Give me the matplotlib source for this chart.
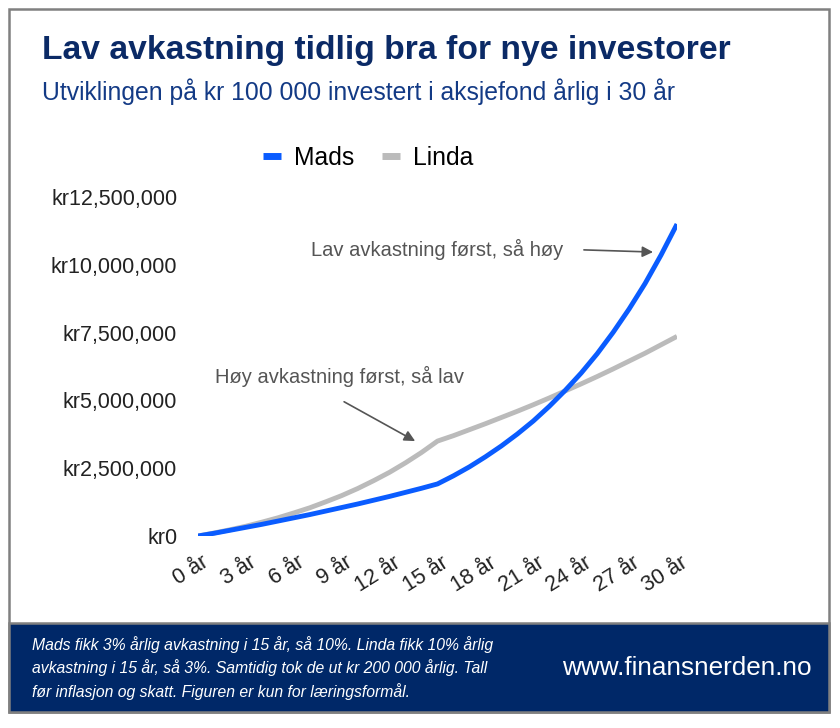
import matplotlib
matplotlib.use('Agg')
import matplotlib.pyplot as plt
from matplotlib.patches import Rectangle
from matplotlib.lines import Line2D
from matplotlib.ticker import FuncFormatter
from matplotlib.transforms import ScaledTranslation

plt.rcParams['font.family'] = ['Liberation Sans', 'DejaVu Sans']

years = list(range(31))
# verdier i millioner kr, lest av figuren
mads = [0.00, 0.10, 0.21, 0.32, 0.43, 0.55, 0.67, 0.79, 0.92, 1.05,
        1.18, 1.32, 1.46, 1.61, 1.76, 1.92, 2.22, 2.55, 2.92, 3.32,
        3.76, 4.24, 4.78, 5.37, 6.01, 6.72, 7.51, 8.37, 9.31, 10.36, 11.50]
linda = [0.00, 0.11, 0.23, 0.36, 0.51, 0.67, 0.85, 1.04, 1.26, 1.49,
         1.75, 2.04, 2.35, 2.70, 3.08, 3.50, 3.70, 3.92, 4.14, 4.37,
         4.60, 4.84, 5.09, 5.35, 5.61, 5.88, 6.16, 6.45, 6.74, 7.05, 7.36]
xticks = list(range(0, 31, 3))
xlabels = [f'{y} år' for y in xticks]
yticks = [0, 2.5, 5, 7.5, 10, 12.5]

BLUE = '#0a5cff'
GREY = '#bbbbbb'
NAVY = '#0b2a66'

fig = plt.figure(figsize=(8.4, 7.28), dpi=100)

# ramme og bunnfelt
fig.patches.append(Rectangle((9/840, 1-712/728), 820/840, 703/728, transform=fig.transFigure,
                             facecolor='white', edgecolor='#808080', lw=1.8, zorder=-10))
fig.patches.append(Rectangle((9/840, 1-712/728), 820/840, 89/728, transform=fig.transFigure,
                             facecolor='#002868', edgecolor='#808080', lw=1.8, zorder=-9))

fig.text(42/840, 1-50/728, 'Lav avkastning tidlig bra for nye investorer', fontsize=24.2,
         fontweight='bold', color=NAVY, va='center')
fig.text(42/840, 1-92/728, 'Utviklingen på kr 100 000 investert i aksjefond årlig i 30 år',
         fontsize=17.8, color='#133a85', va='center')

ax = fig.add_axes([198/840, 1-536/728, (677-198)/840, (536-197)/728])
ax.plot(years, linda, color=GREY, lw=3.5, label='Linda', solid_capstyle='butt', zorder=2)
ax.plot(years, mads, color=BLUE, lw=3.5, label='Mads', solid_capstyle='butt', zorder=3)
ax.set_xlim(0, 30)
ax.set_ylim(0, 12.5)
ax.set_xticks(xticks)
ax.set_xticklabels(xlabels, rotation=32, ha='right', va='center', rotation_mode='anchor')
ax.set_yticks(yticks)
ax.yaxis.set_major_formatter(FuncFormatter(lambda v, p: 'kr0' if v == 0 else f'kr{v*1e6:,.0f}'))
ax.tick_params(axis='both', length=0, labelsize=15.5, colors='#222222')
ax.tick_params(axis='y', pad=15)
ax.tick_params(axis='x', pad=18)
shift = ScaledTranslation(9/100, 0, fig.dpi_scale_trans)
for lab in ax.get_xticklabels():
    lab.set_transform(lab.get_transform() + shift)
for s in ax.spines.values():
    s.set_visible(False)
ax.patch.set_alpha(0)

handles = [Line2D([], [], color=BLUE, lw=5, solid_capstyle='butt'),
           Line2D([], [], color=GREY, lw=5, solid_capstyle='butt')]
fig.legend(handles, ['Mads', 'Linda'], loc='center', bbox_to_anchor=(368/840, 1-158/728),
           ncol=2, frameon=False, fontsize=17.8, handlelength=0.73, handletextpad=0.53,
           columnspacing=1.1)

ax.text(22.86, 10.55, 'Lav avkastning først, så høy', fontsize=14.5, color='#555555',
        ha='right', va='center')
ax.annotate('', xy=(28.5, 10.47), xytext=(24.17, 10.55),
            arrowprops=dict(arrowstyle='-|>', color='#555555', lw=1.2, mutation_scale=16,
                            shrinkA=0, shrinkB=0))
ax.text(1.05, 5.9, 'Høy avkastning først, så lav', fontsize=14.5, color='#555555',
        ha='left', va='center')
ax.annotate('', xy=(13.6, 3.5), xytext=(9.15, 4.95),
            arrowprops=dict(arrowstyle='-|>', color='#555555', lw=1.2, mutation_scale=16,
                            shrinkA=0, shrinkB=0))

footer = ('Mads fikk 3% årlig avkastning i 15 år, så 10%. Linda fikk 10% årlig\n'
          'avkastning i 15 år, så 3%. Samtidig tok de ut kr 200 000 årlig. Tall\n'
          'før inflasjon og skatt. Figuren er kun for læringsformål.')
fig.text(32/840, 1-668/728, footer, fontsize=11.35, color='white', style='italic',
         va='center', linespacing=1.5)
fig.text(812/840, 1-668/728, 'www.finansnerden.no', fontsize=18.8, color='white',
         va='center', ha='right')

fig.savefig('out.png', dpi=100)
